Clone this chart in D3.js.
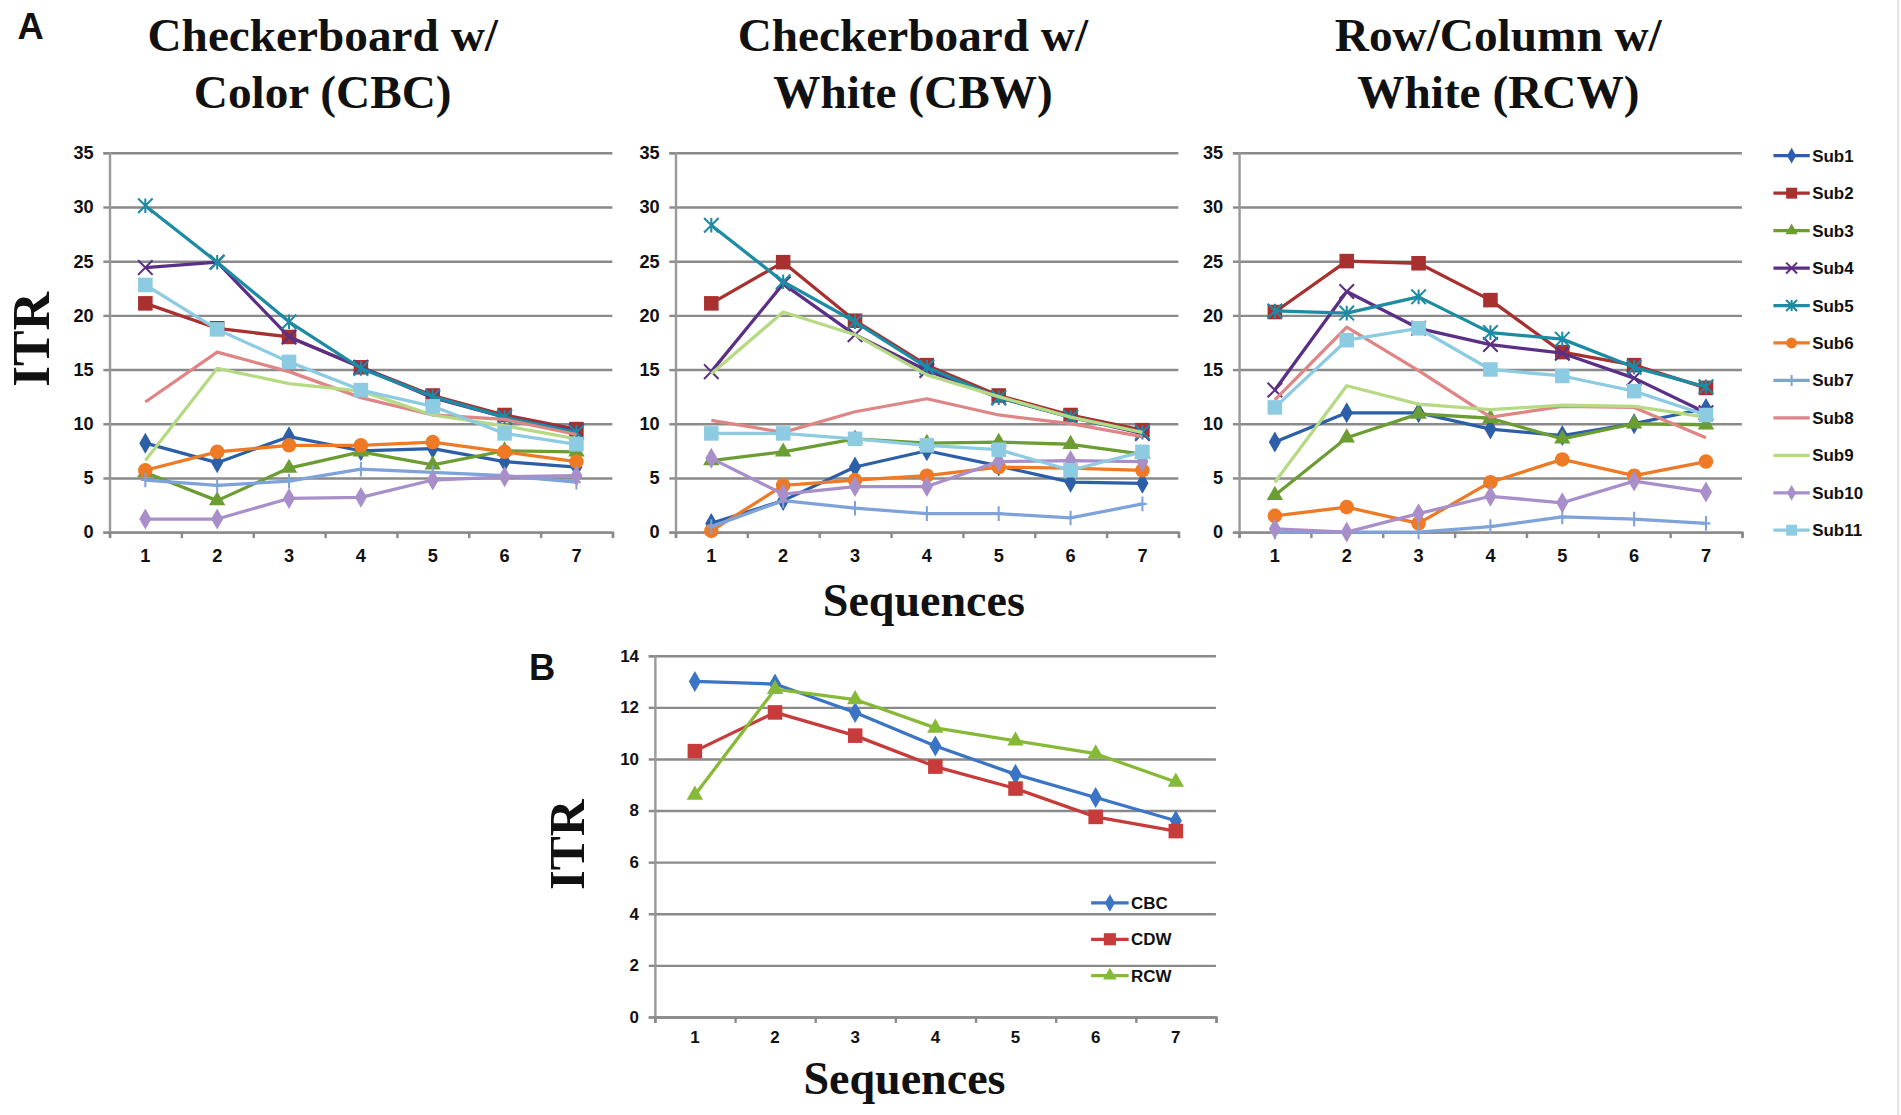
<!DOCTYPE html>
<html>
<head>
<meta charset="utf-8">
<script src="https://cdn.jsdelivr.net/npm/d3@7/dist/d3.min.js"></script>
<style>
  body { margin: 0; background: #fff; }
  svg { display: block; }
</style>
</head>
<body>
<div id="fig"></div>
<script>
// ---- data ----
var sequences = [1, 2, 3, 4, 5, 6, 7];
var subjects = ["Sub1","Sub2","Sub3","Sub4","Sub5","Sub6","Sub7","Sub8","Sub9","Sub10","Sub11"];
var subColors = ["#2c5fa8","#a8302f","#6b9d32","#5b2f86","#1c8ba3","#ee7a26","#7ea2da","#df8585","#b6da84","#a98fca","#8ccbe2"];
var subMarkers = ["diamond","square","triangle","x","star","circle","plus","none","none","diamond","square"];

var yTicksA = [0, 5, 10, 15, 20, 25, 30, 35];
var yTicksB = [0, 2, 4, 6, 8, 10, 12, 14];

// Checkerboard w/ Color (CBC)
var cbcITR = [
  [8.2, 6.4, 8.8, 7.5, 7.7, 6.5, 6.0],
  [21.1, 18.8, 18.0, 15.2, 12.6, 10.8, 9.5],
  [5.5, 2.9, 5.9, 7.4, 6.2, 7.5, 7.4],
  [24.4, 24.9, 18.0, 15.2, 12.4, 10.6, 9.3],
  [30.1, 24.9, 19.4, 15.1, 12.5, 10.6, 9.2],
  [5.7, 7.4, 8.0, 8.0, 8.3, 7.4, 6.5],
  [4.8, 4.3, 4.7, 5.8, 5.5, 5.2, 4.6],
  [12.0, 16.6, 14.8, 12.4, 10.8, 10.4, 9.0],
  [6.6, 15.1, 13.7, 13.0, 10.8, 9.8, 8.6],
  [1.2, 1.2, 3.1, 3.2, 4.8, 5.1, 5.2],
  [22.8, 18.7, 15.7, 13.1, 11.6, 9.1, 8.1]
];
// Checkerboard w/ White (CBW)
var cbwITR = [
  [0.8, 2.9, 6.0, 7.5, 6.1, 4.6, 4.5],
  [21.1, 24.9, 19.5, 15.4, 12.6, 10.8, 9.4],
  [6.6, 7.4, 8.6, 8.2, 8.3, 8.1, 7.2],
  [14.8, 22.9, 18.2, 14.9, 12.4, 10.6, 9.1],
  [28.3, 23.1, 19.4, 15.2, 12.4, 10.6, 9.2],
  [0.1, 4.3, 4.8, 5.2, 6.0, 5.9, 5.7],
  [0.5, 2.9, 2.2, 1.7, 1.7, 1.3, 2.6],
  [10.3, 9.2, 11.1, 12.3, 10.8, 10.0, 8.8],
  [14.6, 20.3, 18.2, 14.5, 12.5, 10.6, 9.2],
  [6.8, 3.5, 4.2, 4.2, 6.5, 6.6, 6.5],
  [9.1, 9.1, 8.6, 8.0, 7.6, 5.7, 7.4]
];
// Row/Column w/ White (RCW)
var rcwITR = [
  [8.3, 11.0, 11.0, 9.5, 8.9, 10.0, 11.4],
  [20.3, 25.0, 24.8, 21.4, 16.6, 15.4, 13.3],
  [3.4, 8.7, 10.9, 10.5, 8.6, 10.0, 9.9],
  [13.1, 22.2, 18.8, 17.3, 16.5, 14.2, 11.0],
  [20.4, 20.2, 21.7, 18.4, 17.8, 15.2, 13.4],
  [1.5, 2.3, 0.8, 4.6, 6.7, 5.2, 6.5],
  [0.0, 0.0, 0.0, 0.5, 1.4, 1.2, 0.8],
  [12.2, 18.9, 14.9, 10.6, 11.6, 11.5, 8.7],
  [4.6, 13.5, 11.8, 11.3, 11.7, 11.6, 10.6],
  [0.3, 0.0, 1.7, 3.3, 2.7, 4.7, 3.7],
  [11.5, 17.7, 18.8, 15.0, 14.4, 13.0, 10.8]
];

// panel B: averages
var avgNames = ["CBC", "CDW", "RCW"];
var avgColors = ["#3b74c4", "#c83b3b", "#86ba36"];
var avgMarkers = ["diamond", "square", "triangle"];
var avgCBC = [13.0, 12.9, 11.8, 10.5, 9.4, 8.5, 7.6];
var avgCDW = [10.3, 11.8, 10.9, 9.7, 8.85, 7.75, 7.2];
var avgRCW = [8.6, 12.7, 12.3, 11.2, 10.7, 10.2, 9.1];

// ---- drawing ----
var W = 1568, H = 920;
var svg = d3.select("#fig").append("svg")
  .attr("width", 1901).attr("height", 1115)
  .attr("viewBox", "0 0 " + W + " " + H);

svg.append("rect").attr("x", 0).attr("y", 0).attr("width", W).attr("height", H)
  .attr("fill", "#fff");
svg.append("line").attr("x1", W - 2).attr("x2", W - 2).attr("y1", 0).attr("y2", H)
  .attr("stroke", "#e0e0e0").attr("stroke-width", 1.5);

var serif = "'Liberation Serif', 'Times New Roman', serif";
var sans = "'Liberation Sans', Arial, sans-serif";

function marker(g, type, color, cx, cy, s) {
  if (type == "none") return;
  if (type == "diamond") {
    g.append("path").attr("d", d3.symbol(d3.symbolDiamond, s * s * 0.6)())
      .attr("transform", "translate(" + cx + "," + cy + ")").attr("fill", color);
  } else if (type == "square") {
    g.append("rect").attr("x", cx - s / 2).attr("y", cy - s / 2)
      .attr("width", s).attr("height", s).attr("fill", color);
  } else if (type == "triangle") {
    g.append("path").attr("d", d3.symbol(d3.symbolTriangle, s * s * 0.55)())
      .attr("transform", "translate(" + cx + "," + cy + ")").attr("fill", color);
  } else if (type == "circle") {
    g.append("circle").attr("cx", cx).attr("cy", cy).attr("r", s / 2).attr("fill", color);
  } else if (type == "x" || type == "star" || type == "plus") {
    var h = s / 2, p = "";
    if (type != "plus") p += "M" + (cx - h) + "," + (cy - h) + "L" + (cx + h) + "," + (cy + h) +
      "M" + (cx - h) + "," + (cy + h) + "L" + (cx + h) + "," + (cy - h);
    if (type != "x") p += "M" + cx + "," + (cy - h) + "L" + cx + "," + (cy + h);
    if (type == "plus") p += "M" + (cx - h * 0.6) + "," + cy + "L" + (cx + h * 0.6) + "," + cy;
    g.append("path").attr("d", p).attr("stroke", color).attr("stroke-width", 1.7).attr("fill", "none");
  }
}

function panel(opt) {
  var g = svg.append("g");
  var x = d3.scaleBand().domain(sequences).range([opt.x0, opt.x1]);
  var xb = d3.scaleLinear().domain([0, sequences.length]).range([opt.x0, opt.x1]);
  var y = d3.scaleLinear().domain([0, d3.max(opt.ticks)]).range([opt.y1, opt.y0]);

  // grid
  var grid = g.append("g").attr("transform", "translate(" + opt.x0 + ",0)")
    .call(d3.axisLeft(y).tickValues(opt.ticks).tickSize(-(opt.x1 - opt.x0)).tickFormat(""));
  grid.select(".domain").remove();
  grid.selectAll("line").attr("stroke", "#8a8a8a").attr("stroke-width", 2);

  // y axis
  var ya = g.append("g").attr("transform", "translate(" + opt.x0 + ",0)")
    .call(d3.axisLeft(y).tickValues(opt.ticks).tickSize(5).tickPadding(8));
  ya.select(".domain").attr("stroke", "#9a9a9a").attr("stroke-width", 2);
  ya.selectAll("line").attr("stroke", "#8a8a8a").attr("stroke-width", 2);
  ya.selectAll("text").attr("font-family", sans).attr("font-weight", "bold")
    .attr("font-size", opt.tickFont).attr("fill", "#111");

  // x axis: ticks between categories, labels at centres
  var xt = g.append("g").attr("transform", "translate(0," + opt.y1 + ")")
    .call(d3.axisBottom(xb).ticks(sequences.length).tickSize(5).tickFormat(""));
  xt.select(".domain").attr("stroke", "#8a8a8a").attr("stroke-width", 2);
  xt.selectAll("line").attr("stroke", "#8a8a8a").attr("stroke-width", 2);
  var xl = g.append("g").attr("transform", "translate(0," + opt.y1 + ")")
    .call(d3.axisBottom(x).tickSize(0).tickPadding(opt.xPad));
  xl.select(".domain").remove();
  xl.selectAll("text").attr("font-family", sans).attr("font-weight", "bold")
    .attr("font-size", opt.tickFont).attr("fill", "#111");

  var line = d3.line()
    .x(function(d, i) { return x(sequences[i]) + x.bandwidth() / 2; })
    .y(function(d) { return y(d); });

  opt.series.forEach(function(vals, k) {
    g.append("path").datum(vals).attr("d", line)
      .attr("fill", "none").attr("stroke", opt.colors[k]).attr("stroke-width", 2.7)
      .attr("stroke-linejoin", "round");
    vals.forEach(function(v, i) {
      marker(g, opt.markers[k], opt.colors[k], x(sequences[i]) + x.bandwidth() / 2, y(v), opt.msize);
    });
  });

  if (opt.title) {
    var t = g.append("text").attr("text-anchor", "middle").attr("font-family", serif)
      .attr("font-weight", "bold").attr("font-size", 39).attr("fill", "#111");
    t.append("tspan").attr("x", opt.titleX).attr("y", 42).text(opt.title[0]);
    t.append("tspan").attr("x", opt.titleX).attr("y", 89).text(opt.title[1]);
  }
  return g;
}

panel({ x0: 90, x1: 505, y0: 126, y1: 439, ticks: yTicksA, series: cbcITR,
  colors: subColors, markers: subMarkers, msize: 12, tickFont: 15, xPad: 14,
  title: ["Checkerboard w/", "Color (CBC)"], titleX: 266 });
panel({ x0: 557, x1: 972, y0: 126, y1: 439, ticks: yTicksA, series: cbwITR,
  colors: subColors, markers: subMarkers, msize: 12, tickFont: 15, xPad: 14,
  title: ["Checkerboard w/", "White (CBW)"], titleX: 753 });
panel({ x0: 1022, x1: 1437, y0: 126, y1: 439, ticks: yTicksA, series: rcwITR,
  colors: subColors, markers: subMarkers, msize: 12, tickFont: 15, xPad: 14,
  title: ["Row/Column w/", "White (RCW)"], titleX: 1236 });
panel({ x0: 540, x1: 1003, y0: 541, y1: 839, ticks: yTicksB, series: [avgCBC, avgCDW, avgRCW],
  colors: avgColors, markers: avgMarkers, msize: 12, tickFont: 14, xPad: 12 });

// legend A
var legA = svg.append("g");
subjects.forEach(function(name, k) {
  var ly = 128.5 + k * 30.9;
  legA.append("line").attr("x1", 1463).attr("x2", 1493).attr("y1", ly).attr("y2", ly)
    .attr("stroke", subColors[k]).attr("stroke-width", 2.7);
  marker(legA, subMarkers[k], subColors[k], 1478, ly, 9);
  legA.append("text").attr("x", 1495).attr("y", ly + 5).text(name)
    .attr("font-family", sans).attr("font-weight", "bold").attr("font-size", 14).attr("fill", "#111");
});

// legend B
var legB = svg.append("g");
avgNames.forEach(function(name, k) {
  var ly = 745 + k * 30;
  legB.append("line").attr("x1", 900).attr("x2", 931).attr("y1", ly).attr("y2", ly)
    .attr("stroke", avgColors[k]).attr("stroke-width", 2.7);
  marker(legB, avgMarkers[k], avgColors[k], 915.5, ly, 10);
  legB.append("text").attr("x", 933).attr("y", ly + 5).text(name)
    .attr("font-family", sans).attr("font-weight", "bold").attr("font-size", 14).attr("fill", "#111");
});

// axis titles and panel letters
function bigText(txt, x, y, size, rot, fam) {
  svg.append("text").attr("text-anchor", "middle")
    .attr("transform", "translate(" + x + "," + y + ")" + (rot ? " rotate(-90)" : ""))
    .attr("font-family", fam).attr("font-weight", "bold").attr("font-size", size)
    .attr("fill", "#111").text(txt);
}
bigText("ITR", 40, 280, 44, true, serif);
bigText("Sequences", 762, 508, 38, false, serif);
bigText("ITR", 482, 697, 42, true, serif);
bigText("Sequences", 746, 903, 38, false, serif);
bigText("A", 25, 32, 30, false, sans);
bigText("B", 447, 561, 30, false, sans);
</script>
</body>
</html>
